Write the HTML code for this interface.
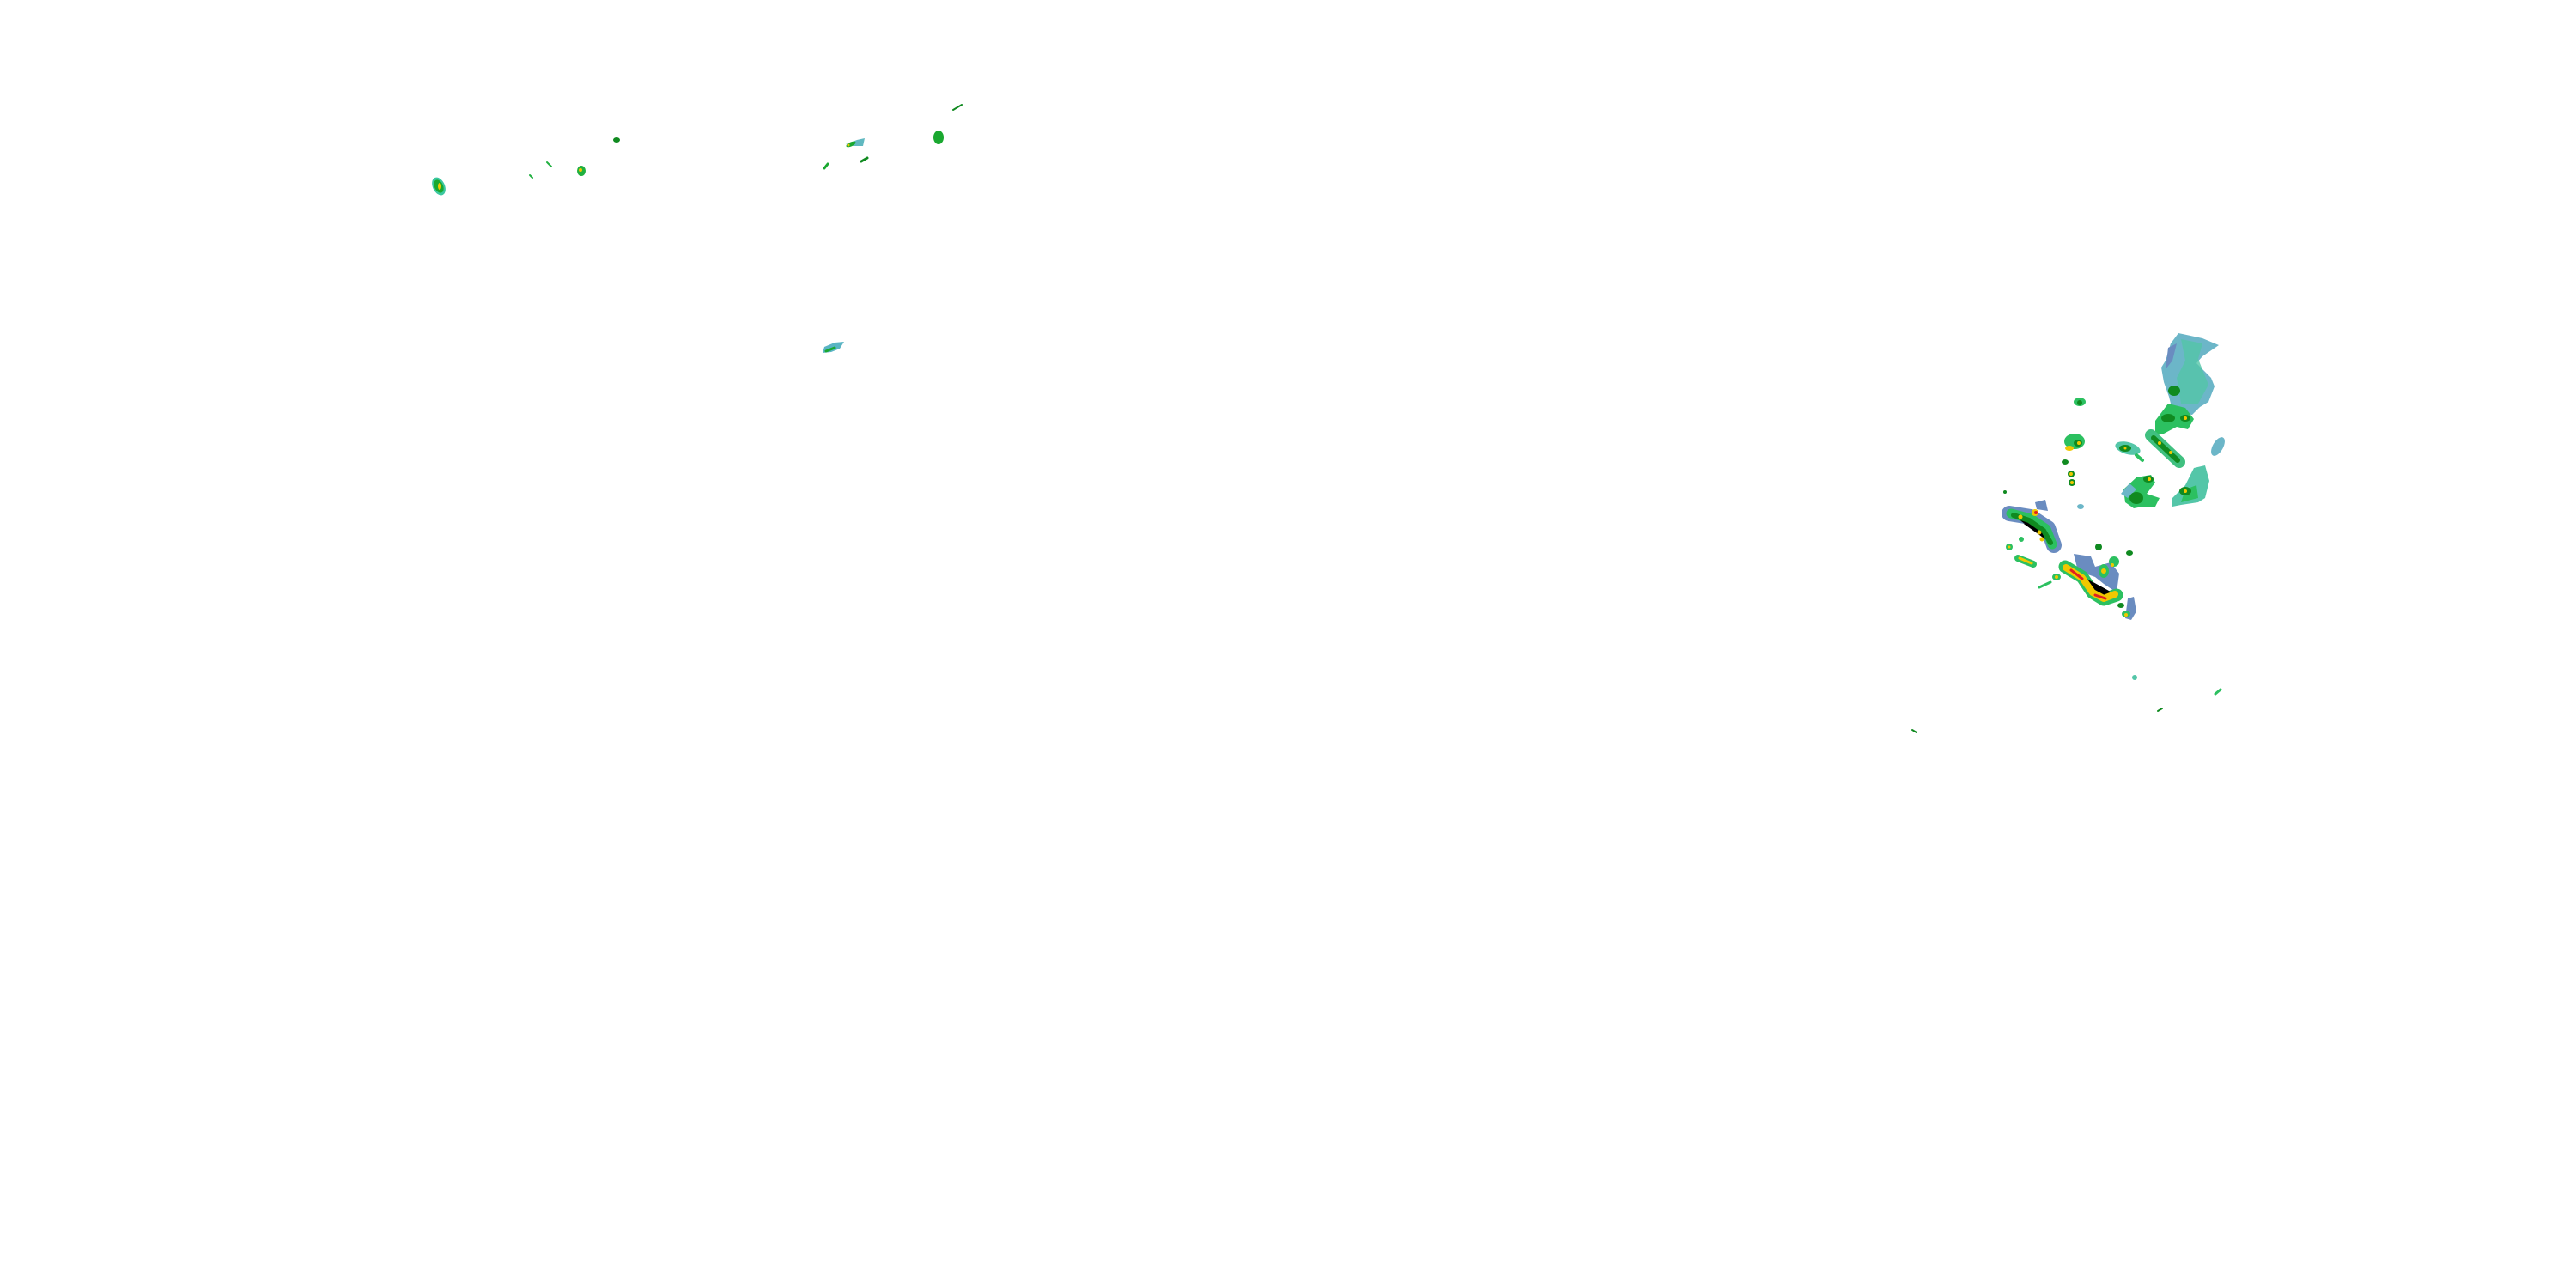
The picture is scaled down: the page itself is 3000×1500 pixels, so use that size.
<!DOCTYPE html>
<html><head><meta charset="utf-8"><style>html,body{margin:0;padding:0;background:#fff;width:3000px;height:1500px;overflow:hidden}</style></head>
<body>
<svg width="3000" height="1500" viewBox="0 0 3000 1500" xmlns="http://www.w3.org/2000/svg">
<g stroke-linecap="round" stroke-linejoin="round">
<!-- left small cells -->
<ellipse cx="511" cy="217" rx="7" ry="11" fill="#3cc8a0" transform="rotate(-25 511 217)"/>
<ellipse cx="511" cy="217" rx="5" ry="8" fill="#1aa830" transform="rotate(-25 511 217)"/>
<ellipse cx="512" cy="217" rx="2" ry="4" fill="#f0c800"/>
<ellipse cx="677" cy="199" rx="5" ry="6" fill="#20b040"/>
<circle cx="676" cy="198" r="2" fill="#f0c800"/>
<ellipse cx="718" cy="163" rx="4" ry="3" fill="#108a20"/>
<line x1="637" y1="189" x2="642" y2="194" stroke="#20b040" stroke-width="2"/>
<line x1="617" y1="204" x2="620" y2="207" stroke="#20b040" stroke-width="2"/>
<path d="M985 168 L998 163 L1007 161 L1005 170 L994 170 Z" fill="#60b8c0"/>
<ellipse cx="991" cy="168" rx="6" ry="2.5" fill="#1aa830" transform="rotate(-25 991 168)"/>
<circle cx="988" cy="169" r="1.5" fill="#f0c800"/>
<line x1="960" y1="196" x2="964" y2="191" stroke="#1aa830" stroke-width="3"/>
<line x1="1003" y1="188" x2="1010" y2="184" stroke="#108a20" stroke-width="3"/>
<ellipse cx="1093" cy="160" rx="6" ry="8" fill="#1aa830"/>
<line x1="1110" y1="128" x2="1120" y2="122" stroke="#108a20" stroke-width="2"/>
<path d="M960 404 L972 399 L983 398 L978 406 L968 410 L958 411 Z" fill="#5ab4c4"/>
<line x1="962" y1="409" x2="972" y2="405" stroke="#1aa830" stroke-width="3"/>
<!-- NE large stratiform -->
<path d="M2537 388 L2565 394 L2584 402 L2565 415 L2558 423 L2575 440 L2579 450 L2572 468 L2562 474 L2553 483 L2540 482 L2530 478 L2526 462 L2520 445 L2517 428 L2522 420 L2528 400 Z" fill="#6cb6c8"/>
<path d="M2540 395 L2565 400 L2560 418 L2572 448 L2560 470 L2540 470 L2535 440 L2545 420 Z" fill="#54c6a8" opacity="0.8"/>
<path d="M2525 405 L2535 400 L2530 420 L2522 430 Z" fill="#6a8cc0"/>
<!-- green band south of it -->
<path d="M2510 490 L2525 470 L2545 475 L2555 488 L2548 500 L2535 497 L2520 505 L2510 505 Z" fill="#2cc060"/>
<ellipse cx="2525" cy="487" rx="8" ry="5" fill="#108a20"/>
<ellipse cx="2545" cy="487" rx="6" ry="4" fill="#108a20"/>
<circle cx="2545" cy="487" r="2" fill="#f0c800"/>
<ellipse cx="2532" cy="455" rx="7" ry="6" fill="#108a20"/>
<!-- diagonal streak -->
<path d="M2505 507 L2538 538" stroke="#40c080" stroke-width="14"/>
<path d="M2508 510 L2536 536" stroke="#108a20" stroke-width="6"/>
<circle cx="2515" cy="516" r="2" fill="#f0c800"/><circle cx="2528" cy="527" r="2" fill="#f0c800"/>
<!-- teal oval -->
<ellipse cx="2478" cy="522" rx="15" ry="7" fill="#54c6a8" transform="rotate(15 2478 522)"/>
<ellipse cx="2475" cy="522" rx="7" ry="4" fill="#108a20"/>
<circle cx="2475" cy="522" r="1.5" fill="#f0c800"/>
<line x1="2488" y1="530" x2="2495" y2="536" stroke="#2cc060" stroke-width="4"/>
<ellipse cx="2583" cy="520" rx="6" ry="12" fill="#6cb6c8" transform="rotate(30 2583 520)"/>
<!-- center blob -->
<path d="M2473 570 L2488 556 L2505 553 L2510 562 L2500 575 L2515 580 L2510 590 L2495 590 L2485 592 L2475 585 Z" fill="#2cc060"/>
<path d="M2470 575 L2480 563 L2488 570 L2478 580 Z" fill="#6cb6c8"/>
<ellipse cx="2488" cy="580" rx="8" ry="7" fill="#108a20"/>
<ellipse cx="2502" cy="558" rx="6" ry="4" fill="#108a20"/><circle cx="2503" cy="558" r="2" fill="#f0c800"/>
<!-- right blob -->
<path d="M2530 580 L2545 565 L2555 545 L2568 542 L2573 560 L2568 580 L2560 585 L2540 588 L2530 590 Z" fill="#54c6a8"/>
<path d="M2540 585 L2545 570 L2558 565 L2560 580 Z" fill="#2cc060"/>
<ellipse cx="2545" cy="572" rx="7" ry="5" fill="#108a20"/><circle cx="2545" cy="572" r="2" fill="#f0c800"/>
<!-- small cells middle-left -->
<ellipse cx="2422" cy="468" rx="7" ry="5" fill="#2cc060"/><circle cx="2422" cy="469" r="3" fill="#108a20"/>
<ellipse cx="2416" cy="514" rx="12" ry="9" fill="#2cc060"/><ellipse cx="2420" cy="516" rx="5" ry="4" fill="#108a20"/><circle cx="2421" cy="516" r="2" fill="#f0c800"/>
<ellipse cx="2410" cy="522" rx="5" ry="3" fill="#f0c800"/>
<ellipse cx="2405" cy="538" rx="4" ry="3" fill="#108a20"/>
<ellipse cx="2412" cy="552" rx="4" ry="4" fill="#108a20"/><circle cx="2412" cy="552" r="2" fill="#f0c800"/>
<ellipse cx="2413" cy="562" rx="4" ry="4" fill="#108a20"/><circle cx="2413" cy="562" r="2" fill="#f0c800"/>
<ellipse cx="2423" cy="590" rx="4" ry="3" fill="#6cb6c8"/>
<!-- SW cluster -->
<path d="M2340 598 L2365 602 L2385 615 L2392 635" stroke="#6a8cc0" stroke-width="18"/>
<path d="M2342 598 L2365 604 L2383 616 L2390 634" stroke="#2cc060" stroke-width="11"/>
<path d="M2345 600 L2363 606 L2380 618 L2388 632" stroke="#108a20" stroke-width="6"/>
<circle cx="2370" cy="597" r="4" fill="#f0c800"/><circle cx="2371" cy="597" r="2" fill="#e02020"/>
<circle cx="2353" cy="602" r="2.5" fill="#f0c800"/>
<circle cx="2375" cy="620" r="2.5" fill="#f0c800"/>
<circle cx="2378" cy="628" r="2.5" fill="#f0c800"/>
<path d="M2370 585 L2382 582 L2385 595 L2372 593 Z" fill="#6a8cc0"/>
<line x1="2350" y1="650" x2="2368" y2="657" stroke="#2cc060" stroke-width="8"/>
<line x1="2352" y1="650" x2="2366" y2="656" stroke="#f0c800" stroke-width="3"/>
<circle cx="2340" cy="637" r="4" fill="#2cc060"/><circle cx="2340" cy="637" r="1.5" fill="#f0c800"/>
<circle cx="2354" cy="628" r="3" fill="#2cc060"/>
<circle cx="2335" cy="573" r="2" fill="#108a20"/>
<!-- big southern streak -->
<path d="M2415 645 L2435 648 L2440 660 L2458 655 L2468 668 L2465 690 L2450 680 L2440 672 L2420 665 Z" fill="#6a8cc0"/>
<path d="M2405 660 L2425 672 L2437 690 L2450 698 L2465 693" stroke="#2cc060" stroke-width="15"/>
<path d="M2406 661 L2425 673 L2437 690 L2450 697 L2463 692" stroke="#f0c800" stroke-width="8"/>
<path d="M2412 664 L2425 674 M2440 693 L2452 697" stroke="#e02020" stroke-width="3"/>
<ellipse cx="2450" cy="665" rx="6" ry="8" fill="#2cc060"/><circle cx="2450" cy="665" r="3" fill="#f0c800"/>
<ellipse cx="2462" cy="654" rx="6" ry="6" fill="#2cc060"/><circle cx="2460" cy="658" r="2" fill="#f0c800"/>
<ellipse cx="2395" cy="672" rx="5" ry="4" fill="#2cc060"/><circle cx="2395" cy="672" r="2" fill="#f0c800"/>
<ellipse cx="2480" cy="644" rx="4" ry="3" fill="#108a20"/>
<ellipse cx="2444" cy="637" rx="4" ry="4" fill="#108a20"/>
<path d="M2478 697 L2485 695 L2488 712 L2482 722 L2475 720 Z" fill="#6a8cc0"/>
<ellipse cx="2476" cy="715" rx="5" ry="4" fill="#2cc060"/><circle cx="2476" cy="716" r="2" fill="#f0c800"/>
<ellipse cx="2470" cy="705" rx="4" ry="3" fill="#108a20"/>
<line x1="2388" y1="678" x2="2375" y2="684" stroke="#2cc060" stroke-width="3"/>
<!-- far small -->
<ellipse cx="2486" cy="789" rx="3" ry="3" fill="#54c6a8"/>
<line x1="2580" y1="808" x2="2586" y2="803" stroke="#2cc060" stroke-width="3"/>
<line x1="2513" y1="828" x2="2518" y2="825" stroke="#108a20" stroke-width="2"/>
<line x1="2227" y1="850" x2="2232" y2="853" stroke="#108a20" stroke-width="2"/>
</g>
</svg>
</body></html>
